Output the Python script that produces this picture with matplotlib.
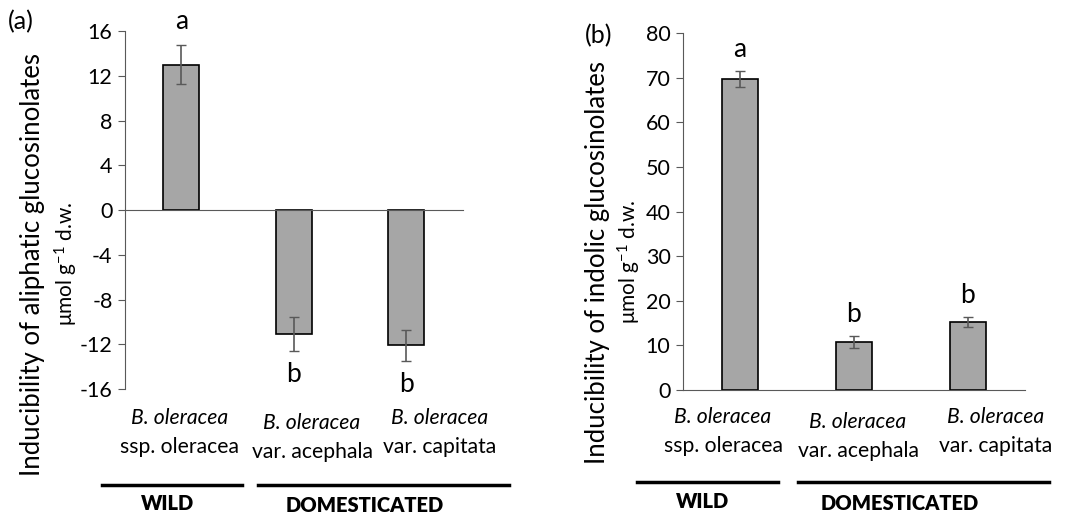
import matplotlib
matplotlib.use("Agg")
from matplotlib import pyplot as plt
from matplotlib.lines import Line2D

plt.rcParams['font.family'] = ['Lato', 'DejaVu Sans']
plt.rcParams['axes.unicode_minus'] = False
plt.rcParams['mathtext.default'] = 'regular'

# data
species = ['B. oleracea', 'B. oleracea', 'B. oleracea']
subtaxa = ['ssp. oleracea', 'var. acephala', 'var. capitata']
aliph = [13.0, -11.1, -12.1]
aliph_err = [1.75, 1.5, 1.4]
aliph_letters = ['a', 'b', 'b']
indol = [69.7, 10.8, 15.3]
indol_err = [1.8, 1.4, 1.1]
indol_letters = ['a', 'b', 'b']

W, H = 1079, 515
fig = plt.figure(figsize=(W / 100, H / 100), dpi=100)

def fx(px):
    return px / W

def fy(py):
    return 1 - py / H

axis_col = '#595959'
bar_col = '#a6a6a6'

def setup(ax, ticks):
    for s in ['top', 'right']:
        ax.spines[s].set_visible(False)
    ax.spines['left'].set_color(axis_col)
    ax.spines['bottom'].set_color(axis_col)
    ax.set_xlim(-0.5, 2.5)
    ax.set_xticks([])
    ax.set_yticks(ticks)
    ax.tick_params(axis='y', direction='out', length=5, color=axis_col, labelsize=15.5, pad=4)

x = [0, 1, 2]

# (a) aliphatic
ax1 = fig.add_axes([fx(125), fy(389), fx(337.7), 358 / H])
ax1.bar(x, aliph, width=0.32, color=bar_col, edgecolor='black', linewidth=1.2, zorder=2)
ax1.errorbar(x, aliph, yerr=aliph_err, fmt='none', ecolor=axis_col, elinewidth=1.2, capsize=3.5, zorder=3)
setup(ax1, range(-16, 17, 4))
ax1.set_ylim(-16, 16)
ax1.spines['bottom'].set_position(('data', 0))
for i, v in enumerate(aliph):
    if v > 0:
        ax1.text(i, v + aliph_err[i] + 1.0, aliph_letters[i], ha='center', va='bottom', fontsize=19)
    else:
        ax1.text(i, v - aliph_err[i] - 1.0, aliph_letters[i], ha='center', va='top', fontsize=19)

# (b) indolic
ax2 = fig.add_axes([fx(683), fy(390), fx(342), 356.7 / H])
ax2.bar(x, indol, width=0.32, color=bar_col, edgecolor='black', linewidth=1.2, zorder=2)
ax2.errorbar(x, indol, yerr=indol_err, fmt='none', ecolor=axis_col, elinewidth=1.2, capsize=3.5, zorder=3)
setup(ax2, range(0, 81, 10))
ax2.set_ylim(0, 80)
for i, v in enumerate(indol):
    ax2.text(i, v + indol_err[i] + 2.0, indol_letters[i], ha='center', va='bottom', fontsize=19)

# panel letters
fig.text(fx(8), fy(22), '(a)', fontsize=18, va='center')
fig.text(fx(585), fy(36), '(b)', fontsize=18, va='center')

# y labels
fig.text(fx(33), fy(264), 'Inducibility of aliphatic glucosinolates', rotation=90,
         ha='center', va='center', fontsize=18.5)
fig.text(fx(66), fy(264), r'μmol g$^{-1}$ d.w.', rotation=90, ha='center', va='center', fontsize=15)
fig.text(fx(598), fy(262), 'Inducibility of indolic glucosinolates', rotation=90,
         ha='center', va='center', fontsize=18.5)
fig.text(fx(629), fy(262), r'μmol g$^{-1}$ d.w.', rotation=90, ha='center', va='center', fontsize=15)

# category labels
cat_pos = [[(180, 418), (312, 423), (440, 418)],
           [(723, 417), (858, 422), (996, 417)]]
for row in cat_pos:
    for (px, py), sp, st in zip(row, species, subtaxa):
        fig.text(fx(px), fy(py), sp, style='italic', ha='center', va='center', fontsize=15.2)
        fig.text(fx(px), fy(py + 29), st, ha='center', va='center', fontsize=15.2)

# group bars
groups = [
    [((102, 242), 485, 'WILD', 168, 504), ((258, 509), 485, 'DOMESTICATED', 365, 505)],
    [((637, 778), 482, 'WILD', 703, 502), ((798, 1049), 482, 'DOMESTICATED', 900, 503)],
]
for panel in groups:
    for (x0, x1), ly, name, tx, ty in panel:
        fig.add_artist(Line2D([fx(x0), fx(x1)], [fy(ly), fy(ly)], color='black', linewidth=2.5))
        fig.text(fx(tx), fy(ty), name, fontweight='heavy', ha='center', va='center', fontsize=14.5)

fig.savefig('out.png', dpi=100)
